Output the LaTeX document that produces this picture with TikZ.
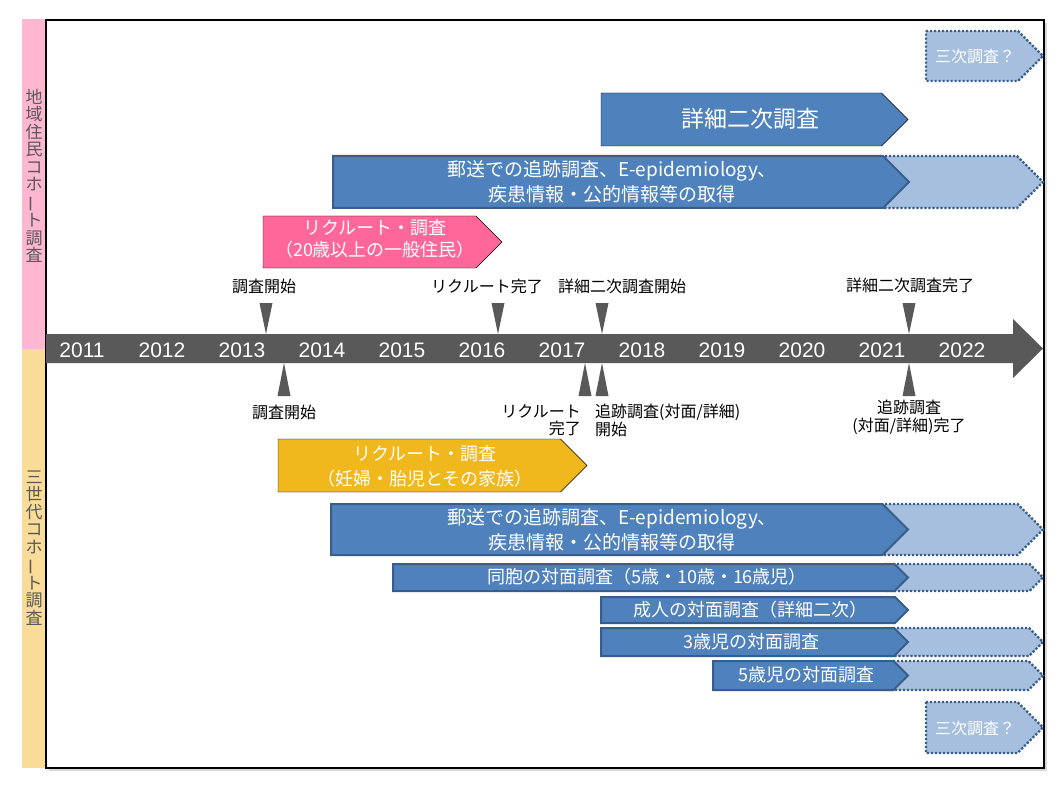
\documentclass[tikz,border=0pt]{standalone}
\usepackage{fontspec}
\setmainfont{Noto Sans CJK JP}
\newfontfamily\yearfont{Liberation Sans}
\usetikzlibrary{positioning}

\definecolor{sidepink}{HTML}{FFB7D1}
\definecolor{sideyellow}{HTML}{F8DC97}
\definecolor{tlgray}{HTML}{595959}
\definecolor{barblue}{HTML}{4F81BD}
\definecolor{bardark}{HTML}{385D8A}
\definecolor{barlight}{HTML}{A7BFDE}
\definecolor{barpink}{HTML}{FF6699}
\definecolor{barorange}{HTML}{F0B81D}

% band: style, left, tip, top, bottom
\newcommand{\band}[5]{%
  \draw[#1] (#2,#4) -- ({#3-(#5-#4)/2},#4) -- (#3,{(#4+#5)/2})
    -- ({#3-(#5-#4)/2},#5) -- (#2,#5) -- cycle;}
\newcommand{\vbar}{\rotatebox[origin=c]{90}{ー}}

\begin{document}
\begin{tikzpicture}[x=1pt,y=-1pt,
    sidetxt/.style={text=tlgray,inner sep=0,align=center,
                    font=\fontsize{17}{17.4}\selectfont},
    yr/.style={text=white,inner sep=0,font=\yearfont\fontsize{21}{24}\selectfont},
    mkr/.style={fill=tlgray},
    lbl/.style={inner sep=0,font=\fontsize{16}{17.5}\selectfont},
    ext/.style={fill=barlight,draw=bardark,line width=2.4pt,
                dash pattern=on 2.2pt off 1.8pt},
    blueplain/.style={fill=barblue},
    bluebox/.style={fill=barblue,draw=bardark,line width=2pt},
    pinkbar/.style={fill=barpink},
    orangebar/.style={fill=barorange},
    bartxt/.style={text=white,inner sep=0,align=center,
                   font=\fontsize{18}{23}\selectfont},
    mailtxt/.style={bartxt,font=\fontsize{19}{25}\selectfont}]

  \useasboundingbox (0,0) rectangle (1059,794);

  % frame and side bars
  \fill[black!15] (49,23) rectangle (1047,771);
  \fill[sidepink] (22,19) rectangle (46,349);
  \fill[sideyellow] (22,349) rectangle (46,768);
  \draw[line width=1.5pt,fill=white] (46,20) rectangle (1044,768);

  \node[sidetxt] (resid) at (34,176) {地\\域\\住\\民\\コ\\ホ\\\vbar\\ト\\調\\査};
  \node[sidetxt] (gener) at (34,548) {三\\世\\代\\コ\\ホ\\\vbar\\ト\\調\\査};

  % timeline
  \fill[tlgray] (46,334) -- (1013,334) -- (1013,319) -- (1043,348.5)
    -- (1013,378) -- (1013,363) -- (46,363) -- cycle;
  \foreach \y [count=\i from 0] in {2011,...,2022}
    \node[yr] (y\y) at ({82+80*\i},350) {\y};

  % milestones
  \foreach \m in {266,498,602,909}
    \fill[mkr] ({\m-6.5},303) -- ({\m+6.5},303) -- (\m,334) -- cycle;
  \foreach \m in {284,585,602,909}
    \fill[mkr] ({\m-6.5},396) -- ({\m+6.5},396) -- (\m,363) -- cycle;

  \node[lbl] (startA) at (264,286) {調査開始};
  \node[lbl] (recA) at (487,286) {リクルート完了};
  \node[lbl] (detA) at (622,286) {詳細二次調査開始};
  \node[lbl] (detEnd) at (910,285) {詳細二次調査完了};
  \node[lbl] (startB) at (284,412) {調査開始};
  \node[lbl,align=right,anchor=north east] (recB) at (581,404) {リクルート\\完了};
  \node[lbl,align=left,anchor=north west] (followB) at (595,404) {追跡調査(対面/詳細)\\開始};
  \node[lbl,align=center,anchor=north] (followEnd) at (909,400) {追跡調査\\(対面/詳細)完了};

  % residents cohort
  \band{ext}{926}{1043}{31}{81}
  \node[bartxt,font=\fontsize{16}{18}\selectfont] (thirdA) at (975,56) {三次調査？};
  \band{blueplain}{601}{908}{93}{146}
  \node[bartxt,font=\fontsize{23}{26}\selectfont] (detail) at (750,119) {詳細二次調査};
  \band{ext}{885}{1043}{156}{208}
  \band{bluebox}{333}{909}{156}{208}
  \node[mailtxt] (mailA) at (612,182) {郵送での追跡調査、E-epidemiology、\\疾患情報・公的情報等の取得};
  \band{pinkbar}{263}{502}{216}{268}
  \node[bartxt,font=\fontsize{18}{22}\selectfont] (recruitA) at (375,239) {リクルート・調査\\（20歳以上の一般住民）};

  % three-generation cohort
  \band{orangebar}{278}{587}{439}{492}
  \node[bartxt,font=\fontsize{18}{25}\selectfont] (recruitB) at (425,466) {リクルート・調査\\（妊婦・胎児とその家族）};
  \band{ext}{885}{1043}{504}{555}
  \band{bluebox}{331}{908}{504}{555}
  \node[mailtxt] (mailB) at (612,530) {郵送での追跡調査、E-epidemiology、\\疾患情報・公的情報等の取得};
  \band{ext}{885}{1043}{564}{591}
  \band{bluebox}{393}{908}{564}{591}
  \node[bartxt] (sib) at (647,577) {同胞の対面調査（5歳・10歳・16歳児）};
  \band{bluebox}{601}{908}{597}{623}
  \node[bartxt] (adult) at (750,610) {成人の対面調査（詳細二次）};
  \band{ext}{885}{1043}{628}{656}
  \band{bluebox}{601}{908}{628}{656}
  \node[bartxt] (age3) at (751,642) {3歳児の対面調査};
  \band{ext}{885}{1043}{661}{690}
  \band{bluebox}{713}{908}{661}{690}
  \node[bartxt] (age5) at (806,675) {5歳児の対面調査};
  \band{ext}{926}{1043}{702}{753}
  \node[bartxt,font=\fontsize{16}{18}\selectfont] (thirdB) at (975,728) {三次調査？};

\end{tikzpicture}
\end{document}
